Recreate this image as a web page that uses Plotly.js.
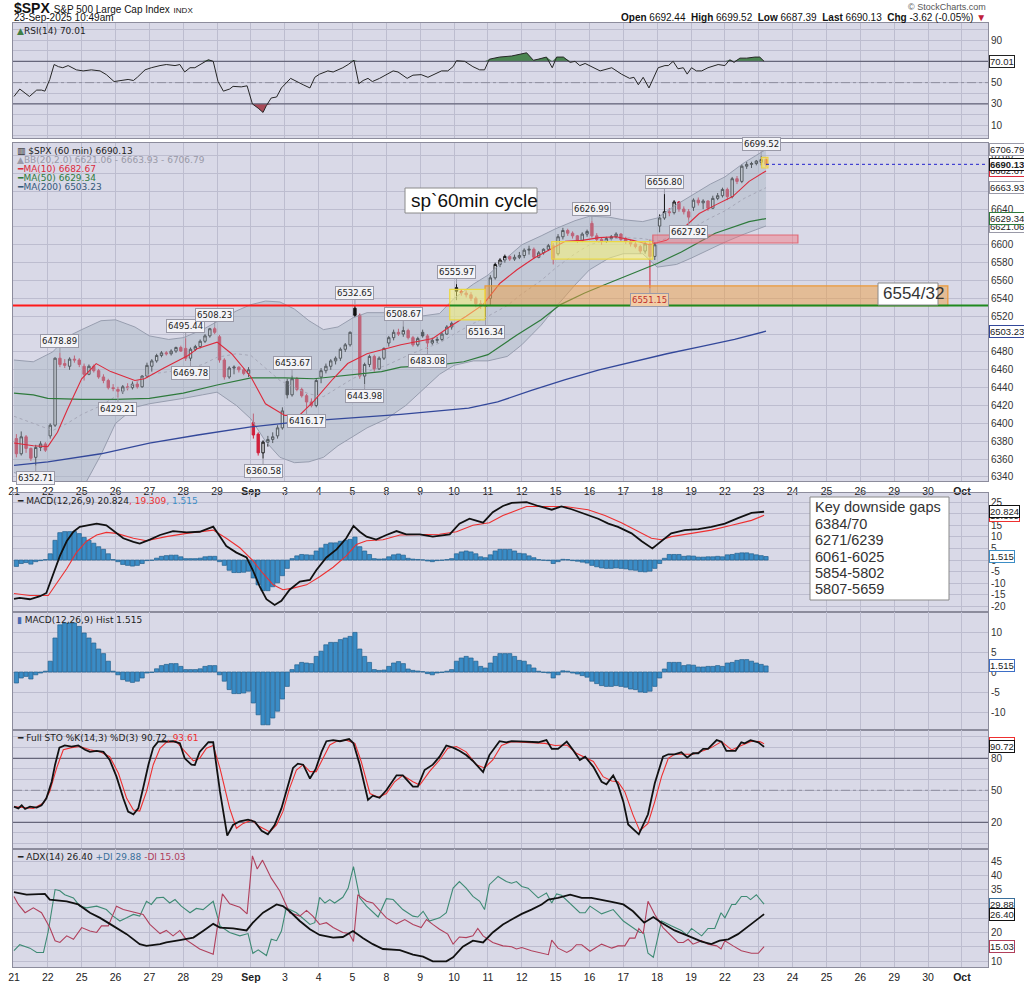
<!DOCTYPE html>
<html><head><meta charset="utf-8">
<script src="https://cdn.plot.ly/plotly-3.0.1.min.js"></script>
<style>html,body{margin:0;padding:0;background:#fff;}#chart{width:1024px;height:983px;}</style>
</head><body><div id="chart"></div>
<script>
// ---------------- DATA ----------------
const dayLabels = ['21','22','25','26','27','28','29','Sep','3','4','5','8','9','10','11','12','15','16','17','18','19','22','23','24','25','26','29','30','Oct'];
const barsPerDay = 7;

const opens = [6383,6366,6385,6372,6362,6373,6377, 6386,6398,6473,6467,6464,6472,6471, 6464,6455,6464,6459,6452,6448,6440, 6438,6436,6441,6440,6444,6441,6453, 6464,6470,6476,6479,6478,6481,6485, 6484,6473,6483,6486,6492,6498,6506, 6497,6471,6452,6462,6463,6460,6456, 6401,6388,6367,6379,6382,6386,6395, 6447,6432,6450,6438,6431,6424,6420, 6452,6459,6464,6470,6473,6483,6488, 6529,6521,6453,6466,6475,6461,6473, 6490,6496,6502,6500,6504,6496,6488, 6502,6498,6490,6493,6494,6500,6508, 6552,6548,6546,6544,6540,6534,6531, 6540,6563,6578,6583,6587,6584,6586, 6588,6594,6595,6586,6591,6595,6599, 6590,6609,6616,6613,6610,6605,6612, 6624,6610,6606,6604,6607,6609,6612, 6607,6604,6601,6598,6593,6601,6587, 6621,6630,6637,6636,6648,6640,6637, 6642,6650,6647,6649,6641,6652,6655, 6662,6654,6674,6671,6688,6690,6691, 6692.44,6695.5];
const highs = [6388,6391,6387,6373,6376,6380,6379, 6400,6474,6478.89,6472,6474,6476,6473, 6467,6466,6466,6461,6455,6450,6444, 6441,6443,6445,6447,6448,6454,6468, 6472,6478,6481,6481,6483,6486,6487, 6495.44,6485,6488,6494,6500,6507,6508.23, 6499,6473,6464,6465,6464,6462,6463, 6411,6390,6381,6386,6390,6398,6418, 6450,6453.67,6452,6440,6433,6428,6450, 6462,6467,6472,6475,6485,6490,6503, 6532.65,6523,6468,6477,6477,6475,6485, 6498,6505,6506,6508.67,6506,6498,6497, 6505,6500,6496,6497,6502,6510,6514, 6555.97,6550,6549,6547,6542,6538,6535, 6566,6580,6585,6589,6588,6589,6592, 6596,6599,6597,6593,6596,6601,6602, 6612,6619,6618,6615,6611,6614,6617, 6626.99,6613,6608,6609,6611,6614,6613, 6609,6606,6604,6600,6604,6606,6603, 6634,6656.8,6641,6650,6649,6643,6640, 6652,6653,6651,6650,6655,6658,6664, 6664,6676,6677,6690,6693,6693,6695, 6699.52,6697];
const lows = [6362,6364,6367,6358,6352.71,6369,6368, 6383,6396,6463,6462,6460,6468,6463, 6448,6454,6457,6450,6445,6438,6436, 6429.21,6433,6437,6438,6439,6440,6451, 6458,6468,6474,6476,6476,6479,6480, 6470,6469.78,6481,6484,6490,6496,6500, 6468,6449,6450,6455,6457,6454,6452, 6383,6364,6360.58,6374,6378,6383,6393, 6428,6430,6436,6429,6416.17,6418,6418, 6445,6456,6460,6466,6470,6480,6486, 6519,6450,6443.98,6463,6458,6460,6471, 6486,6493,6498,6497,6494,6486,6486, 6496,6483.08,6488,6490,6492,6499,6505, 6538,6543,6541,6537,6530,6528,6516.34, 6532,6561,6575,6580,6582,6582,6584, 6585,6589,6584,6585,6589,6593,6578, 6588,6606,6610,6607,6602,6603,6609, 6608,6604,6600,6602,6605,6607,6604, 6601,6598,6596,6590,6590,6551.15,6583, 6614,6628,6632,6634,6637,6634,6627.92, 6638,6644,6640,6638,6640,6650,6653, 6650,6652,6668,6669,6685,6686,6689, 6689,6687.39];
const closes = [6366,6385,6372,6361,6373,6377,6370, 6398,6473,6466,6465,6472,6471,6466, 6455,6464,6459,6452,6448,6440,6439, 6436,6441,6440,6444,6441,6453,6465, 6470,6476,6479,6478,6481,6485,6481, 6473,6483,6486,6492,6498,6506,6502, 6471,6452,6462,6463,6460,6456,6460, 6387,6367,6379,6382,6385,6395,6414, 6432,6450,6438,6431,6424,6420,6448, 6459,6464,6470,6473,6483,6488,6502, 6521,6453,6466,6475,6461,6473,6484, 6496,6502,6500,6504,6496,6488,6495, 6498,6490,6493,6494,6500,6508,6512, 6548,6546,6544,6540,6534,6531,6532, 6563,6578,6583,6587,6584,6586,6588, 6594,6595,6586,6591,6595,6599,6584, 6609,6616,6613,6610,6605,6612,6615, 6610,6606,6604,6607,6609,6612,6606, 6604,6601,6598,6593,6601,6587,6600, 6630,6637,6636,6648,6640,6637,6631, 6650,6647,6649,6641,6652,6655,6662, 6654,6674,6671,6688,6690,6691,6693.75, 6695.5,6690.13];

// labelled highs / lows (bar numbers)
const hiLabelBars = [9,35,41,57,70,80,91,119,134,154];
const loLabelBars = [4,21,36,51,60,72,85,97,131,139];

// overlays (bar time, value)
const bbBar = [0,4,8,11,14,18,21,25,28,32,35,39,42,46,49,52,55,58,61,64,67,70,73,77,81,84,88,91,95,98,102,105,109,112,116,119,123,126,130,133,137,140,144,147,151,155.5];
const bbUp  = [6471,6469,6480,6497,6505,6515,6516,6508,6498,6494,6496,6505,6514,6526,6533,6537,6536,6528,6515,6505,6508,6518,6524,6524,6522,6520,6523,6540,6556,6566,6586,6600,6610,6618,6627,6632,6631,6628,6626,6630,6645,6655,6668,6676,6692,6706.79];
const bbLow = [6345,6338,6330,6322,6325,6365,6400,6418,6422,6425,6428,6432,6435,6420,6405,6380,6362,6356,6357,6362,6375,6385,6395,6405,6420,6435,6455,6465,6470,6470,6475,6488,6510,6530,6555,6572,6585,6590,6590,6575,6578,6585,6595,6603,6612,6621.06];
const bbMid = [6408,6400,6392,6400,6410,6420,6430,6445,6455,6458,6460,6466,6474,6478,6476,6462,6448,6440,6433,6430,6440,6450,6458,6465,6475,6482,6490,6500,6512,6520,6532,6545,6560,6574,6590,6600,6606,6608,6607,6604,6610,6618,6630,6638,6652,6663.93];
const ma10Bar = [0,4,7,9,11,14,17,20,25,27,31,36,38,42,45,49,52,56,59,62,66,69,73,76,80,86.6,90,93.5,97,100.5,104,107.5,110.7,114,117.5,121,124.5,128,131.4,134.9,138.3,141.7,145.2,148.6,152,154.8,155.5];
const ma10Val = [6378,6375,6374,6390,6415,6450,6467,6458,6448,6450,6462,6476,6484,6491,6478,6452,6422,6409,6409,6425,6450,6467,6478,6482,6488,6495,6508,6520,6533,6557,6572,6585,6594,6604,6605,6608,6609,6605,6600,6605,6618,6635,6645,6654,6671,6680,6682.67];
const ma50Bar = [0,4,7,14,21,28,35,42,49,56,62,69,76,80,87,93,98,104,109,113,118,122,128,133,138,145,152,155.5];
const ma50Val = [6434,6432,6428,6427,6427,6428,6434,6443,6451,6451,6450,6454,6458,6463,6465,6469,6477,6499,6516,6533,6546,6555,6568,6579,6592,6613,6626,6629.34];
const ma200Bar = [0,7,18,28,38,49,59,69,80,94,100,107,114,121,128,135,142,149,155.5];
const ma200Val = [6353,6357,6366,6378,6387,6396,6402,6406,6410,6417,6424,6437,6449,6460,6469,6478,6486,6494,6503.23];

// analyst zones: [startBar, endBar, lowPrice, highPrice]
const breakoutBox = [90.1, 97.4, 6516, 6550];
const gapZone     = [97.4, 193.1, 6532, 6554];
const rangeBox    = [111.2, 132.1, 6584, 6603.5];
const fomcGap     = [132.1, 162.1, 6602, 6611];
const lastBarBox  = [154.6, 155.9, 6686, 6698];
const breakLevel = 6532, breakSwitchBar = 90.1;
const gapList = ['Key downside gaps','6384/70','6271/6239','6061-6025','5854-5802','5807-5659'];

// RSI(14)
const rsiBar = [0,1.2,3.2,4.7,5.7,6.4,7.4,8.3,9.2,10.1,11.2,12.9,14.3,16,17.8,19.1,20.7,21.9,23.6,24.7,25.5,27.1,28.4,30.2,31.5,33.3,34.3,35.3,36.4,37.4,38.8,40.2,41.2,42.2,43.3,44.6,45.3,47,48.2,49.3,50.5,51.5,52.2,53.2,54.3,55.3,57.2,58.4,59.8,61.2,62.2,63.2,64.9,66,67,68,69.1,70.3,71.3,72.2,73.2,74.1,75.6,77.3,78.4,79.4,81.3,82.5,84.2,85.6,86.6,88.4,89.7,90.8,91.5,93.2,94.9,96.3,97.3,98.3,100.4,102.9,106,107.4,108.4,110.1,111.3,112.2,113.6,115,116,117,118.1,119.4,121.2,123.6,125.6,127.3,128.2,129.1,130.1,131.3,133.2,134.6,135.3,136.3,137.3,138.4,139.2,140.1,141.1,142.2,143.5,145.6,147,148,148.9,150.1,151.5,153.2,154.2,155.1];
const rsiVal = [37,44,37,43,43,42,53,67,65,64,66,62,61,62,61,57.5,51,52,53,52,55,62,64,66,67,66,67,60,64,64,68,71.5,70,51,42,44,46.5,46,47,30,26,22,28.5,35.6,36.5,45,54,51,48,45,55,58,61,60,62,64,67,71,49,52,54,51,54,58,61,60,54,57,57.5,55,57,61,61,65,70.6,70,65,62,62,72,74,75,78,71,72,74,64,74,74,69,70,66,68,65,61,64,58,54,55,48,55,45,64,66,66,70,63,64,58,64,61,61,64,67,66,71.5,69,73,73,74,74,70.01];

// MACD(12,26,9)
const macdBar = [0,1.2,3.3,5.4,6.7,8.1,9.5,10.9,12.3,13.6,15.7,17.1,19.1,20.5,22.6,24.7,26,28.1,30.2,32.9,35.7,38.4,41.2,42.6,43.9,46,48.1,49.4,50.8,52.2,53.9,55.3,57,59.1,61.2,62.5,64.6,66.7,68.7,70.2,71.5,72.9,74.9,77,79.1,81.1,83.9,86.6,90.1,92.1,94.2,97,99,101.1,102.9,106,108.4,111.2,113.2,115.3,118.1,120.8,122.9,124.9,127.7,129.8,132,133.9,135.9,138.7,141.5,144.2,147,149.7,152.5,155.1];
const macdVal = [-16.7,-16.3,-16.9,-15.6,-14.2,-5.8,1.8,8.1,12.2,14.3,15,15.7,15,12.9,9.4,7.8,7.1,8.8,10.8,12.5,11.9,12.2,14.4,10.1,6,3.2,1.1,-4.4,-11.4,-16.9,-19.4,-17.6,-12.8,-9.3,-8.6,-4.4,1.1,4.6,9.4,14.7,12.2,10.1,8.8,10.8,12.5,11.1,11.1,10.1,11.1,15.7,17.8,16.1,20.6,23.3,24.6,25,23.3,21.7,23.1,21.9,19.9,17.8,15.7,14.3,11.5,8.1,5,8.1,11.5,12.9,13.3,14.3,15.7,18.1,20.3,20.824];
const sigBar = [0,3.3,7.1,8.8,10.9,12.9,15,17.1,19.1,21.2,24.7,27.4,31.5,35.7,41.2,43.9,46.7,49.4,51.5,53.6,55.6,57.7,60.5,63.2,66,68.7,70.8,72.9,76.3,79.8,83.9,88,91.5,94.9,98.3,101.1,102.9,106,109.8,113.9,118.7,122.2,125.6,129.1,131.8,133.9,135.9,140.1,144.2,148.4,152.5,155.1];
const sigVal = [-14.4,-15.3,-15.3,-10,-3.75,3.2,8.1,10.8,11.9,11.5,9.4,8.3,10.1,11.5,12.9,9.4,5.3,-0.3,-5.8,-10.7,-12.8,-12.1,-10.7,-7.2,-3.1,1.8,6.7,8.3,8.75,10.8,10.8,11.1,12.2,15,16.1,19.2,20.6,23.1,23.1,23.1,21.7,19.2,16.1,12.2,9.4,8.75,10.1,11.5,12.9,15,17.1,19.309];
const hist = [-2.75,-1.5,-1.1,-1.75,-0.7,-0.25,0.2,2.7,8.5,11.8, 12.25,12.25,12.25,11.4,9.75,8.5,7.25,5.75,4.6,2.7, 0.2,-0.7,-1.9,-2.3,-2.6,-2.3,-1.5,-0.25,-0.1,0.8, 1.6,1.9,2.1,2.1,1.4,0.6,0.6,0.6,0.8,1.4, 1.6,1.6,-0.7,-2.3,-4.4,-5.4,-5.4,-5.25,-4.8,-7.75, -10.7,-13.2,-13.2,-11.5,-9.8,-6.75,-3.6,0.6,1.8,2.4, 2.25,2.1,3.9,5.2,6.8,7.4,7.4,8.1,8.5,8.9, 9.9,5.75,3.9,2.4,0.6,0.4,0.5,1.4,2.25,2.6, 2.1,0.75,0.4,0.25,0.1,-0.4,-0.7,-0.25,-0.1,0.2, 0.6,2.7,3.5,3.9,3.5,2.7,1.4,1.0,2.25,3.9, 4.6,4.6,4.6,3.9,2.9,2.7,1.8,1.0,0.2,-0.1, -0.25,-1.5,-0.7,0.3,0.2,-0.25,-0.5,-0.9,-1.3,-2.3, -2.9,-3.4,-3.6,-3.6,-3.4,-3.6,-3.8,-4.25,-4.4,-5.0, -5.1,-4.8,-3.6,-1.5,0.75,2.4,2.4,2.4,1.6,1.8, 1.7,1.25,1.25,1.4,1.4,1.6,1.4,2.25,2.4,2.9, 3.1,3.1,2.7,2.25,1.9,1.515];

// Full STO %K(14,3) %D(3)
const kBar = [0,0.9,1.6,2.3,3.3,4.7,5.7,6.7,7.8,8.5,9.4,10.5,11.9,13.3,14.7,15.7,17.1,18.5,19.8,21.2,22.6,23.6,24.7,25.7,26.7,27.8,28.8,29.8,31.5,32.9,34.3,35.3,36.7,37.4,38.4,40.2,41.2,42.6,44.1,45.3,46.7,48.4,49.8,51.2,52.5,53.9,55.3,56.3,57.7,58.7,59.8,61.2,62.4,63.6,64.6,66,67.4,69.3,70.2,71.5,73.2,74.2,75.6,77,79.1,80.4,82.5,83.5,84.9,86.6,88,89.4,90.8,92.1,93.5,94.9,97,98.3,100.4,101.8,102.9,105.7,108.4,110.1,111.2,112.5,114.3,115.6,117,118.1,119.8,121.5,122.5,123.9,124.9,126,127,129.2,130.1,131.1,132.5,134.2,135.3,136.6,138,139.2,140.4,141.5,142.5,143.5,145.3,146.3,147.3,149.2,150.4,151.1,152.3,153.9,155.1];
const kVal = [34.7,33,36,32.5,34.7,33.75,36,42.5,58,74,90,92,91,92,88,86,87,86,78.4,62.8,42.5,30,27.5,33,52,74,90,95.6,95.6,96,94,80,74,73.75,86,95,95,48.75,7.5,17.5,21,22.5,20.6,12,8.75,17.5,33,48.75,71,75,74,61,70,86,96,97,96,98,94,74,41,45,43,50,64,64,53.4,53.4,69,74,81.5,92,90,87,83,77.5,67,83,96,95,96,95.6,95,97,88.75,88.75,95.6,87.8,78.4,81.5,72,58,55.6,64,55,39.4,18,8.75,17.5,27.5,56.6,81.5,83.75,83.75,85.6,80.6,84.7,84.7,88.75,88.75,97,95.6,87,87,95,94,97,95,90.72];
const dBar = [0,4,6.1,7.4,8.8,10.2,11.9,13.6,15.7,17.8,19.8,21.6,23.3,24.7,26,27.4,28.8,30.2,31.5,33.6,35,37.1,38.4,39.8,41.2,42.6,44.6,46,47.4,49.1,50.8,52.9,54.3,55.6,57,58.4,59.8,61.2,62.5,63.9,65.3,66.7,68.7,70.5,71.8,73.6,75.3,77,78.7,80.4,82.5,83.9,85.9,88,89.7,91.5,93.5,95.6,97.3,99,100.8,102.9,107,109.8,111.9,114.3,116.3,117.7,119.8,121.8,123.6,124.9,126.3,128,129.4,131.1,132.5,133.9,135.3,136.6,138.7,140.4,142.5,144.2,146.3,148.4,150.4,152.5,154.2,155.1];
const dVal = [34.7,33,38,48.75,70.6,88,90,91,88,86,81.5,66,42.5,31.6,30.6,48.75,74,89.4,95,95.6,88,77.5,80,89.4,92,70.6,33,14.4,19,22,16,11,17.5,30,52,69,74,67.5,67.5,80,92.5,96,97,94,77,47,43.4,47,58,64,58,55,67.5,78.4,89.4,91,86,74,71,78.4,92,95.6,95,94,92,92.5,84.7,81.5,77,62.8,58.75,58,48.75,27,12,19,39.4,62.8,80,83.75,83.75,83.75,87,90,95.6,87.8,92,96,95.6,93.61];

// ADX(14), +DI, -DI
const adxBar = [0,1.2,2.6,6.4,7.4,10.9,13.3,15.7,17.8,20.5,23.3,26,27.4,30.2,31.5,34.3,37.1,39.1,41.2,42.6,45.3,48.1,49.4,51.5,54.3,55.6,57,59.1,61.2,63.2,66,68,70.1,72.2,74.2,76.3,79.8,82.5,84.6,86.6,89.4,90.8,92.8,94.9,97,99,101.1,102.9,105,107,109.1,110.5,112.5,115,117.4,119.4,121.5,123.6,126,128,130.3,132.2,133.9,136.6,139.4,142.2,144.2,145.9,147.7,149.7,152.5,155.1];
const adxVal = [34.1,33.8,33.2,33.5,31.5,30.9,29.8,26.9,25.1,22.3,19.4,15.9,15.3,15.9,16.5,17.3,18.2,20.5,23,21.7,21.4,20.7,23.4,26.9,29.8,29.2,27.4,24,21.1,19.1,18.2,18.4,20.5,18,15.9,14.2,13.8,12.2,11.5,9.9,9.9,11.3,15,17.1,16.5,20,22.8,24.5,26.5,28,29.8,31.5,32.1,33.2,32.1,32.1,31.5,30.7,29.8,27.4,23.4,25.4,23.4,20.7,18.8,16.8,15.9,17.1,17.6,19.4,23,26.4];
const pdiBar = [0,1.2,3.3,4.7,6.1,7.1,8.5,9.5,10.5,12.3,13.6,15,17.1,19.1,20.5,21.9,23.3,24.7,26,27.4,28.4,29.5,30.9,32.2,33.3,34.6,36.4,37.7,39.1,41.2,42.6,44.6,46.7,48.4,49.4,50.5,52.2,53.2,54.3,55.3,56.3,58.4,61.2,62.2,63.2,64.3,65.3,66.3,68,69.1,70.2,71.5,72.9,75.3,77,78.4,80.4,82.5,83.5,84.6,85.9,88,89.4,90.8,92.1,93.5,94.9,96.3,97.3,98.3,100.1,101.8,102.9,103.9,105,106.3,108.4,110.1,111.2,112.2,113.2,115.3,117,118.1,119.1,121.5,123.9,126,128,129.4,130.2,131.1,132.2,133.9,135.9,138,139.1,140.1,142.2,143.5,144.9,146.2,147,148.4,149.2,150.4,151.5,152.3,153.5,155.1];
const pdiVal = [13.6,15.7,14.5,13,13,20.5,35,34.6,33.2,32.1,29.2,28.6,29.2,28,25.7,24,25.1,26.3,25.7,30.9,29.8,32.1,32.3,30.3,31.5,29.2,26.9,28.4,28,30.9,22.3,20,18.8,19.6,12.7,13.9,11.9,17.6,17.1,20.5,28.6,26.9,22.8,23.4,32.3,30.3,31.5,30.3,32.3,35.5,43,32.1,29.2,25.4,31.8,31.5,28,25.7,25.4,27.4,24,25.1,26.9,35.5,37.8,35.5,32.6,30.9,28,36.7,39.6,37.8,37.2,37.8,36.1,35.5,32.1,33.8,30.3,33.5,33,29.8,26.9,26.9,29.2,26.5,28,24,21.7,20,20,12.7,11.3,24,22.3,20.7,19.1,21.4,18.8,21.4,21.4,26.9,25.1,29.8,29.8,32.6,32.6,31.5,33.2,29.88];
const mdiBar = [0,0.9,2.3,4,5.7,7.4,8.5,9.5,10.9,12.3,14,15.7,17.1,18.1,19.5,21.2,22.6,24,25.3,26.7,28.1,30.2,31.5,32.9,34.3,35.7,38.4,41.2,43.1,44.6,46.7,48.2,49.3,50.3,51.4,53.2,55,57,59.1,60.5,61.8,63.2,64.6,66,68,69.3,70.2,71.1,72.9,74.2,77,79.1,80.8,82.5,84.2,85.3,86.6,88,89.7,90.8,92.1,93.5,94.9,95.9,97,99,101.1,102.9,103.9,105,107,109.1,110.5,111.2,112.5,114.3,115.3,116.3,117.4,119.1,121.5,123.6,124.9,126.3,127.3,128.4,129.2,130.1,131.1,132.5,134.2,135.9,137.3,138.4,139.4,140.4,142.2,143.5,145.3,146.2,147,148.7,150.4,152.5,153.9,155.1];
const mdiVal = [32.6,29.8,26.9,28.6,26.9,21.7,17.1,16.5,18.8,17.6,21.7,20.5,20,22.3,22.3,29.2,28,27.4,26.9,26.3,22.8,19.6,20.7,18.8,20.7,17.3,14.2,12.4,33.5,30,28.8,26.5,46.8,42.2,45.3,39,34.4,26.9,25.7,27.7,25.7,22.8,23.4,21.7,20,19.6,16.8,33.2,30.9,30.3,25.1,23,24.5,22.8,21.7,24.5,22.8,21.1,19.4,15.9,18.4,18.2,18.8,21.4,18.8,16.5,15.3,15,14.2,14.7,13.6,12.7,12.2,17.3,14.5,13,13.9,15.7,15.7,13.4,15.9,14.5,15.3,15.3,18,18,21.4,19.6,30.9,26.3,21.7,18.8,16.5,16.5,17.6,15.9,17.1,15.9,15.3,14.2,17.1,15.3,13.6,12.7,12.7,15.03];

// ---------------- LAYOUT HELPERS ----------------
const N = closes.length;
const barX = closes.map((_, i) => i + 0.5);
const dayTicks = dayLabels.map((_, d) => d * barsPerDay);
const xMin = -0.2, xMax = 201.4;
const fx = x => (x - 13) / 975;          // page px -> paper
const fy = y => (967 - y) / 944;
const bg = '#d9d9e7', gridC = '#bdbdcf', lineC = '#8c8c9c';
const tickFont = {family:'Liberation Sans, Arial, sans-serif', size:10, color:'#333'};
const legFont = {family:'DejaVu Sans, Verdana, sans-serif', size:9, color:'#222'};

function xa(n, show) {
  return {domain:[0,1], anchor: n===1 ? 'y' : 'y'+n, range:[xMin, xMax], tickmode:'array',
    tickvals: dayTicks, ticktext: dayLabels.map(l => /[A-Za-z]/.test(l) ? '<b>'+l+'</b>' : l),
    showticklabels: show, ticks:'', showgrid:true, gridcolor:gridC, gridwidth:1, zeroline:false,
    showline:true, mirror:true, linecolor:lineC, linewidth:1,
    tickfont:{family:'Liberation Sans, Arial, sans-serif', size:10.5, color:'#222'},
    rangeslider:{visible:false}, fixedrange:true};
}
function ya(n, dom, range, vals, shown) {
  return {domain:dom, anchor: n===1 ? 'x' : 'x'+n, side:'right', range, tickmode:'array',
    tickvals: vals, ticktext: vals.map(v => shown.includes(v) ? String(v) : ''),
    ticks:'', showgrid:true, gridcolor:gridC, gridwidth:1, zeroline:false,
    showline:true, mirror:true, linecolor:lineC, linewidth:1, tickfont:tickFont, fixedrange:true};
}
const steps = (a, b, s) => { const r = []; for (let v = a; v <= b + 1e-9; v += s) r.push(+v.toFixed(4)); return r; };
const dom = (top, bot) => [fy(bot), fy(top)];

// ---------------- TRACES ----------------
const traces = [];
const line = (x, y, ax, color, width, dash) => ({type:'scatter', mode:'lines', x, y, xaxis:'x'+(ax===1?'':ax), yaxis:'y'+(ax===1?'':ax), line:{color, width, dash: dash||'solid'}, hoverinfo:'skip', showlegend:false});

// RSI with fills above 70 / below 30
const ob = 70, os = 30;
traces.push({...line(rsiBar, rsiBar.map(() => ob), 1, 'rgba(0,0,0,0)', 0)});
traces.push({...line(rsiBar, rsiVal.map(v => Math.max(v, ob)), 1, 'rgba(0,0,0,0)', 0), fill:'tonexty', fillcolor:'#4a8550'});
traces.push({...line(rsiBar, rsiBar.map(() => os), 1, 'rgba(0,0,0,0)', 0)});
traces.push({...line(rsiBar, rsiVal.map(v => Math.min(v, os)), 1, 'rgba(0,0,0,0)', 0), fill:'tonexty', fillcolor:'#a94a58'});
const lvl = (ax, y, color, width, dash) => line([xMin, xMax], [y, y], ax, color, width, dash);
traces.push(lvl(1, ob, '#66667a', 1.3), lvl(1, os, '#66667a', 1.3), lvl(1, 50, '#8e8e9e', 1, 'dashdot'));
traces.push(line(rsiBar, rsiVal, 1, '#262626', 1));

// Price panel: Bollinger band, MAs, candles
traces.push(line(bbBar, bbUp, 2, 'rgba(145,152,170,0.9)', 1));
traces.push({...line(bbBar, bbLow, 2, 'rgba(145,152,170,0.9)', 1), fill:'tonexty', fillcolor:'rgba(168,182,196,0.45)'});
traces.push(line(bbBar, bbMid, 2, '#a6a8b8', 1, 'dot'));
traces.push(line(ma200Bar, ma200Val, 2, '#33489a', 1.3));
traces.push(line(ma50Bar, ma50Val, 2, '#2e7a3c', 1.2));
traces.push(line(ma10Bar, ma10Val, 2, '#dc2a3c', 1.1));

const groups = {up:{x:[],open:[],high:[],low:[],close:[]}, dn:{x:[],open:[],high:[],low:[],close:[]}};
for (let i = 0; i < N; i++) {
  const prev = i > 0 ? closes[i-1] : opens[i];
  const g = closes[i] >= prev ? groups.up : groups.dn;
  g.x.push(barX[i]); g.open.push(opens[i]); g.high.push(highs[i]); g.low.push(lows[i]); g.close.push(closes[i]);
}
function candle(g, col) {
  return {type:'candlestick', ...g, xaxis:'x2', yaxis:'y2', whiskerwidth:0, hoverinfo:'skip', showlegend:false,
    increasing:{line:{color:col, width:1}, fillcolor:'rgba(255,255,255,0.6)'},
    decreasing:{line:{color:col, width:1}, fillcolor:col}};
}
traces.push(candle(groups.up, '#111111'));
traces.push(candle(groups.dn, '#d0203c'));

// MACD panel
traces.push({type:'bar', x:barX, y:hist, xaxis:'x3', yaxis:'y3', marker:{color:'#3a8cc6', line:{color:'#22608e', width:0.7}}, hoverinfo:'skip', showlegend:false});
traces.push(line(sigBar, sigVal, 3, '#ee3030', 1.1));
traces.push(line(macdBar, macdVal, 3, '#111111', 1.8));
// Histogram panel
traces.push({type:'bar', x:barX, y:hist, xaxis:'x4', yaxis:'y4', marker:{color:'#3a8cc6', line:{color:'#22608e', width:0.7}}, hoverinfo:'skip', showlegend:false});
// STO
traces.push(lvl(5, 80, '#66667a', 1.3), lvl(5, 20, '#66667a', 1.3), lvl(5, 50, '#8e8e9e', 1, 'dashdot'));
traces.push(line(dBar, dVal, 5, '#ee3030', 1.1));
traces.push(line(kBar, kVal, 5, '#111111', 1.8));
// ADX
traces.push(line(pdiBar, pdiVal, 6, '#3e8a74', 1.1));
traces.push(line(mdiBar, mdiVal, 6, '#b0405c', 1.1));
traces.push(line(adxBar, adxVal, 6, '#111111', 1.8));

// ---------------- SHAPES ----------------
const shapes = [];
function zone(z, fill, edge) {
  return {type:'rect', xref:'x2', yref:'y2', x0:z[0], x1:z[1], y0:z[2], y1:z[3], fillcolor:fill, line:{color:edge, width:1.2}, layer:'above'};
}
shapes.push(zone(gapZone, 'rgba(238,160,70,0.5)', 'rgba(236,150,50,0.95)'));
shapes.push(zone(breakoutBox, 'rgba(255,250,110,0.5)', 'rgba(236,216,60,0.95)'));
shapes.push(zone(rangeBox, 'rgba(255,250,110,0.5)', 'rgba(236,216,60,0.95)'));
shapes.push(zone(fomcGap, 'rgba(245,110,120,0.42)', 'rgba(226,92,104,0.85)'));
shapes.push(zone(lastBarBox, 'rgba(255,235,90,0.55)', 'rgba(236,206,60,0.9)'));
shapes.push({type:'line', xref:'x2', yref:'y2', x0:xMin, x1:breakSwitchBar, y0:breakLevel, y1:breakLevel, line:{color:'#ff1a1a', width:2}, layer:'above'});
shapes.push({type:'line', xref:'x2', yref:'y2', x0:breakSwitchBar, x1:xMax, y0:breakLevel, y1:breakLevel, line:{color:'#1f8a1f', width:2}, layer:'above'});
shapes.push({type:'line', xref:'x2', yref:'y2', x0:barX[N-1], x1:xMax, y0:closes[N-1], y1:closes[N-1], line:{color:'#2222cc', width:1, dash:'dot'}, layer:'above'});
// text boxes
const pbox = (x0, y0, x1, y1) => ({type:'rect', xref:'paper', yref:'paper', x0:fx(x0), x1:fx(x1), y0:fy(y1), y1:fy(y0), fillcolor:'#ffffff', line:{color:'#8a8a8a', width:1}, layer:'above'});
shapes.push(pbox(405, 188, 537, 213));
shapes.push(pbox(878, 283, 938, 305));
shapes.push(pbox(810, 497, 949, 600));

// ---------------- ANNOTATIONS ----------------
const ann = [];
const txt = (x, y, text, font, xanchor) => ({xref:'paper', yref:'paper', x:fx(x), y:fy(y), text, showarrow:false, xanchor:xanchor||'left', yanchor:'middle', font});
// header
ann.push(txt(12, 8, "<b>$SPX</b> <span style='font-size:10px'>S&amp;P 500 Large Cap Index</span> <span style='font-size:8px'>INDX</span>", {family:'Liberation Sans, Arial', size:14, color:'#111'}));
ann.push(txt(12, 18, '23-Sep-2025 10:49am', {family:'Liberation Sans, Arial', size:10, color:'#111'}));
ann.push(txt(988, 7, '© StockCharts.com', {family:'Liberation Sans, Arial', size:9, color:'#555'}, 'right'));
ann.push(txt(988, 18, "<b>Open</b> 6692.44  <b>High</b> 6699.52  <b>Low</b> 6687.39  <b>Last</b> 6690.13  <b>Chg</b> -3.62 (-0.05%) <span style='color:#c0203a'>▼</span>", {family:'Liberation Sans, Arial', size:10, color:'#111'}, 'right'));

// panel legends
function leg(ax, k, text, color) {
  const xr = (ax===1 ? 'x' : 'x'+ax) + ' domain', yr = (ax===1 ? 'y' : 'y'+ax) + ' domain';
  return {xref:xr, yref:yr, x:0, y:1, xanchor:'left', yanchor:'top', xshift:2, yshift:-1 - k*9, text, showarrow:false, font:{...legFont, color:color||'#222'}};
}
ann.push(leg(1, 0, "<span style='color:#3f7f45'>▲</span>RSI(14) 70.01"));
ann.push(leg(2, 0, "▥ $SPX (60 min) 6690.13"));
ann.push(leg(2, 1, "▲BB(20,2.0) 6621.06 - 6663.93 - 6706.79", '#9a9aa8'));
ann.push(leg(2, 2, "━MA(10) 6682.67", '#dc2a3c'));
ann.push(leg(2, 3, "━MA(50) 6629.34", '#2e7a3c'));
ann.push(leg(2, 4, "━MA(200) 6503.23", '#33587a'));
ann.push(leg(3, 0, "━ MACD(12,26,9) 20.824<span style='color:#ee3030'>, 19.309</span><span style='color:#3d8ec6'>, 1.515</span>"));
ann.push(leg(4, 0, "<span style='color:#4a6ab0'>▮</span> MACD(12,26,9) Hist 1.515"));
ann.push(leg(5, 0, "━ Full STO %K(14,3) %D(3) 90.72<span style='color:#ee3030'>, 93.61</span>"));
ann.push(leg(6, 0, "━ ADX(14) 26.40 <span style='color:#3a6f9a'>+DI 29.88</span> <span style='color:#b0405c'>-DI 15.03</span>"));

// right-side value tags
function tag(ax, y, text, color, bold) {
  return {xref:(ax===1?'x':'x'+ax)+' domain', x:1, xanchor:'left', xshift:1, yref:ax===1?'y':'y'+ax, y, yanchor:'middle',
    text: bold ? '<b>'+text+'</b>' : text, showarrow:false, font:{family:'Liberation Sans, Arial', size:9.5, color:'#222'},
    bgcolor:'#ffffff', bordercolor:color, borderwidth:1, borderpad:0};
}
ann.push(tag(1, 70.01, '70.01', '#222'));
ann.push(tag(2, bbUp[bbUp.length-1], '6706.79', '#9a9aa8'));
ann.push(tag(2, bbMid[bbMid.length-1], '6663.93', '#9a9aa8'));
ann.push(tag(2, bbLow[bbLow.length-1], '6621.06', '#9a9aa8'));
ann.push(tag(2, ma50Val[ma50Val.length-1], '6629.34', '#2e7a3c'));
ann.push(tag(2, ma200Val[ma200Val.length-1], '6503.23', '#33489a'));
ann.push(tag(2, ma10Val[ma10Val.length-1], '6682.67', '#dc2a3c'));
ann.push(tag(2, closes[N-1], '6690.13', '#111', true));
ann.push(tag(3, 19.309, '19.309', '#ee3030'));
ann.push(tag(3, 20.824, '20.824', '#111'));
ann.push(tag(3, 1.515, '1.515', '#3d8ec6'));
ann.push(tag(4, 1.515, '1.515', '#3d6ec6'));
ann.push(tag(5, 93.61, '93.61', '#ee3030'));
ann.push(tag(5, 90.72, '90.72', '#111'));
ann.push(tag(6, 15.03, '15.03', '#b0405c'));
ann.push(tag(6, 29.88, '29.88', '#3a6f9a'));
ann.push(tag(6, 26.40, '26.40', '#111'));

// high / low value labels
function vlabel(i, isHigh, special) {
  return {xref:'x2', yref:'y2', x:barX[i], y:isHigh ? highs[i] : lows[i], text:(isHigh ? highs[i] : lows[i]).toFixed(2),
    showarrow:true, arrowhead:0, arrowwidth:1, arrowcolor:'#9a9aa8', ax:0, ay:isHigh ? -12 : 12, standoff:0,
    font:{family:'DejaVu Sans, Verdana', size:8.5, color: special ? '#c0302c' : '#222'},
    bgcolor: special ? '#f2cda6' : '#f3f3f7', bordercolor:'#9a9aa8', borderwidth:1, borderpad:1};
}
hiLabelBars.forEach(i => ann.push(vlabel(i, true)));
loLabelBars.forEach(i => ann.push(vlabel(i, false, lows[i] === 6551.15)));

// text boxes
ann.push(txt(409, 200.5, 'sp`60min cycle', {family:'Liberation Sans, Arial', size:19, color:'#111'}));
ann.push(txt(881, 294, '6554/32', {family:'Liberation Sans, Arial', size:17, color:'#333'}));
gapList.forEach((s, k) => ann.push(txt(813, 507.3 + k*16.4, s, {family:'Liberation Sans, Arial', size:14.5, color:'#333'})));

// ---------------- LAYOUT ----------------
const layout = {
  width:1024, height:983, margin:{l:13, r:36, t:23, b:16},
  paper_bgcolor:'#ffffff', plot_bgcolor:bg, showlegend:false, hovermode:false, bargap:0.12,
  xaxis:xa(1,false), xaxis2:xa(2,true), xaxis3:xa(3,false), xaxis4:xa(4,false), xaxis5:xa(5,false), xaxis6:xa(6,true),
  yaxis: ya(1, dom(23, 138), [-2, 106], steps(0, 100, 10), [10, 30, 50, 90]),
  yaxis2: ya(2, dom(143, 481), [6335.5, 6714], steps(6340, 6700, 20), steps(6340, 6700, 20).filter(v => ![6500, 6620, 6660, 6680].includes(v))),
  yaxis3: ya(3, dom(493, 612), [-22.4, 28.9], steps(-20, 25, 5), steps(-20, 25, 5).filter(v => v !== 20)),
  yaxis4: ya(4, dom(612, 730), [-14.5, 15], steps(-10, 10, 5), steps(-10, 10, 5)),
  yaxis5: ya(5, dom(730, 849), [-5, 106.5], steps(0, 100, 10), [20, 50, 80]),
  yaxis6: ya(6, dom(849, 967), [7.9, 49.2], steps(10, 45, 5), [10, 20, 35, 40, 45]),
  shapes, annotations: ann
};
Plotly.newPlot('chart', traces, layout, {staticPlot:true, displayModeBar:false});
</script></body></html>
